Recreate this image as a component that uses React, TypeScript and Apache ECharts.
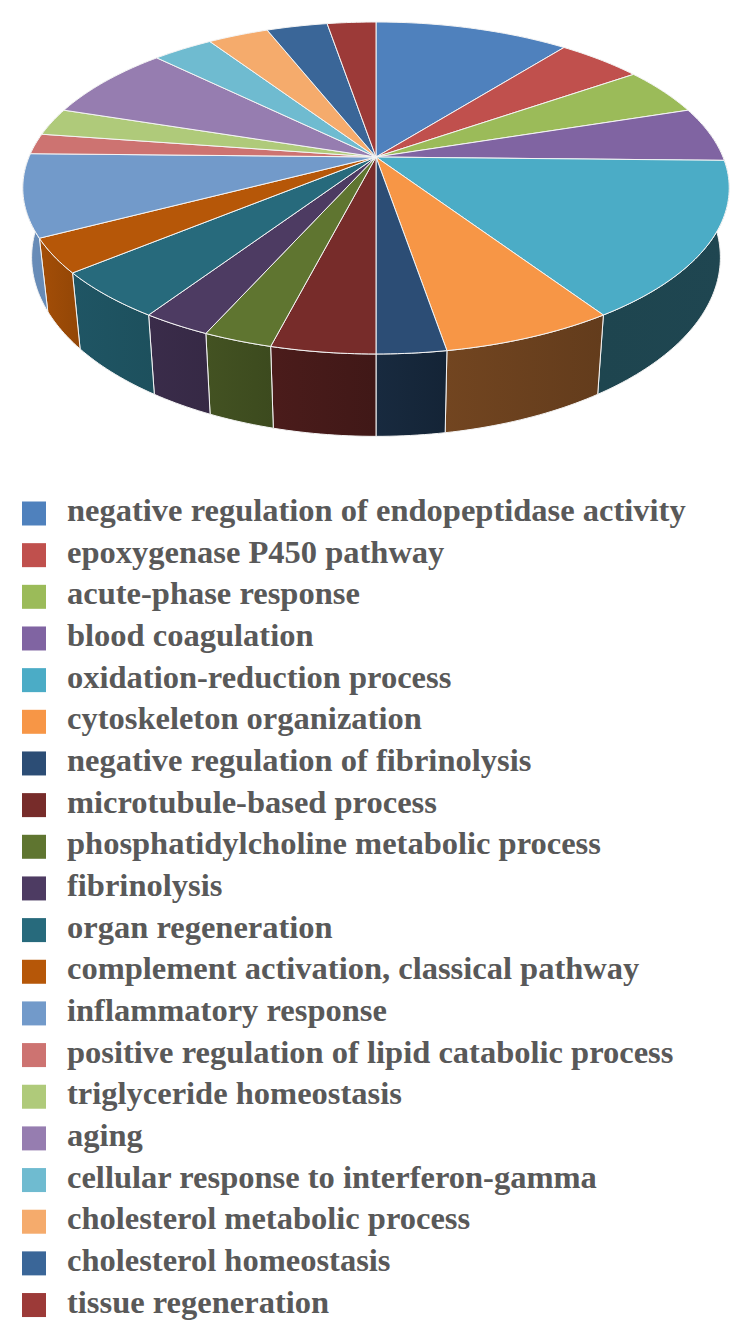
import React, { useEffect, useRef } from "react";
import * as echarts from "echarts";

const categories = [
  "negative regulation of endopeptidase activity",
  "epoxygenase P450 pathway",
  "acute-phase response",
  "blood coagulation",
  "oxidation-reduction process",
  "cytoskeleton organization",
  "negative regulation of fibrinolysis",
  "microtubule-based process",
  "phosphatidylcholine metabolic process",
  "fibrinolysis",
  "organ regeneration",
  "complement activation, classical pathway",
  "inflammatory response",
  "positive regulation of lipid catabolic process",
  "triglyceride homeostasis",
  "aging",
  "cellular response to interferon-gamma",
  "cholesterol metabolic process",
  "cholesterol homeostasis",
  "tissue regeneration",
];

const counts = [16, 7, 7, 8, 23, 10, 4, 6, 4, 4, 7, 5, 12, 3, 4, 11, 5, 5, 5, 4];

const colors = [
  "#4F81BD", "#C0504D", "#9BBB59", "#8064A2", "#4BACC6",
  "#F79646", "#2C4D75", "#772C2A", "#5F7530", "#4D3B62",
  "#276A7C", "#B65708", "#729ACA", "#CD7371", "#AFCA7A",
  "#967DB0", "#6FBBD0", "#F5AB6C", "#3A6698", "#9C3A38",
];

const total = counts.reduce((a, b) => a + b, 0);

// perspective disc
const CX = 376;
const CY = 157;
const RX = 347;
const RY = 160.2;
const P = 0.1867;
const DEPTH = 67;
const SHRINK = 0.975;

function project(deg: number, bottom: boolean): number[] {
  const t = (deg * Math.PI) / 180;
  const X = Math.sin(t);
  const Y = -Math.cos(t);
  const w = 1 - P * Y;
  let x = (RX * X) / w;
  let y = CY + (RY * Y) / w;
  if (bottom) {
    x *= SHRINK;
    y += DEPTH / w;
  }
  return [CX + x, y];
}

const shadeStops = [
  [90, 0.41], [147, 0.4], [170, 0.46], [180, 0.54], [194, 0.63], [204, 0.7],
  [213, 0.75], [230, 0.8], [242, 0.9], [275, 0.92],
];

function shade(deg: number): number {
  for (let i = 1; i < shadeStops.length; i++) {
    const [a, sa] = shadeStops[i - 1];
    const [b, sb] = shadeStops[i];
    if (deg <= b) return sa + ((sb - sa) * Math.max(deg - a, 0)) / (b - a);
  }
  return 0.92;
}

function darken(hex: string, f: number): string {
  const n = parseInt(hex.slice(1), 16);
  const r = Math.round(((n >> 16) & 255) * f);
  const g = Math.round(((n >> 8) & 255) * f);
  const b = Math.round((n & 255) * f);
  return `rgb(${r},${g},${b})`;
}

function arc(a: number, b: number, bottom: boolean): number[][] {
  const steps = Math.max(2, Math.ceil(b - a));
  const pts: number[][] = [];
  for (let i = 0; i <= steps; i++) pts.push(project(a + ((b - a) * i) / steps, bottom));
  return pts;
}

function sliceSeries(index: number) {
  const before = counts.slice(0, index).reduce((a, b) => a + b, 0);
  return {
    type: "custom",
    name: categories[index],
    coordinateSystem: "none",
    itemStyle: { color: colors[index] },
    data: [[counts[index]]],
    renderItem: (_params: any, api: any) => {
      const start = (before / total) * 360;
      const end = start + (api.value(0) / total) * 360;
      const children: any[] = [];
      if (end > 85 && start < 280) {
        children.push({
          type: "polygon",
          z2: 1,
          shape: { points: [...arc(start, end, false), ...arc(start, end, true).reverse()] },
          style: {
            fill: {
              type: "linear", x: 0, y: 0, x2: 1, y2: 0,
              colorStops: [
                { offset: 0, color: darken(colors[index], shade(end)) },
                { offset: 1, color: darken(colors[index], shade(start)) },
              ],
            },
            stroke: "#f4f4f4",
            lineWidth: 1,
          },
        });
      }
      children.push({
        type: "polygon",
        z2: 10,
        shape: { points: [[CX, CY], ...arc(start, end, false)] },
        style: { fill: colors[index], stroke: "#f4f4f4", lineWidth: 1 },
      });
      return { type: "group", children };
    },
  };
}

export default function App() {
  const ref = useRef<HTMLDivElement>(null);
  useEffect(() => {
    const chart = echarts.init(ref.current!, undefined, { renderer: "svg" });
    chart.setOption({
      animation: false,
      backgroundColor: "#ffffff",
      legend: {
        show: true,
        orient: "vertical",
        left: 22,
        top: 493.5,
        height: 845,
        padding: 0,
        itemWidth: 24,
        itemHeight: 24,
        itemGap: 8.66,
        icon: "rect",
        selectedMode: false,
        data: categories,
        formatter: (name: string) => `{t|${name}}`,
        textStyle: {
          fontFamily: "Liberation Serif",
          fontWeight: "bold",
          fontSize: 32.5,
          color: "#595959",
          rich: {
            t: {
              fontFamily: "Liberation Serif",
              fontWeight: "bold",
              fontSize: 32.5,
              color: "#595959",
              padding: [0, 0, 7, 16],
            },
          },
        },
      },
      series: categories.map((_, i) => sliceSeries(i)),
    });
    return () => chart.dispose();
  }, []);
  return (
    <div
      ref={ref}
      style={{ position: "absolute", left: 0, top: 0, width: 752, height: 1342 }}
    />
  );
}
